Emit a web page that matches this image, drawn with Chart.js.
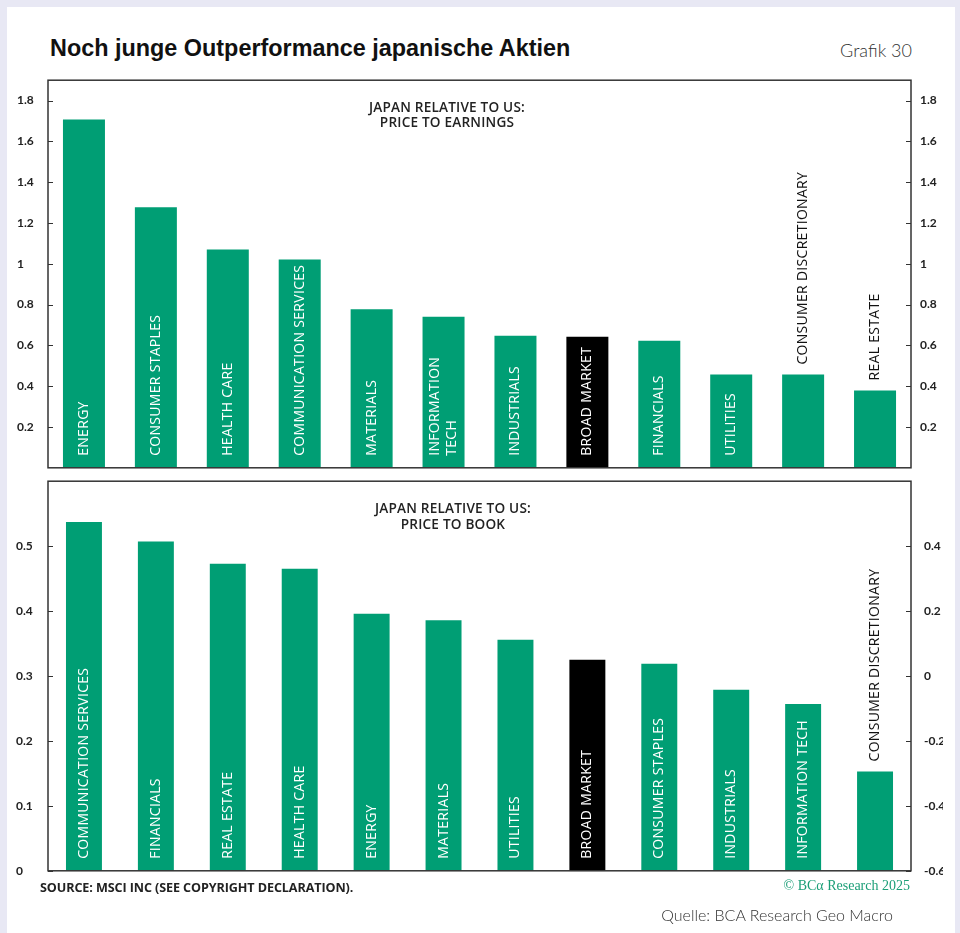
<!DOCTYPE html>
<html>
<head>
<meta charset="utf-8">
<script src="https://cdn.jsdelivr.net/npm/chart.js@4.4.1/dist/chart.umd.min.js"></script>
<style>
  body { margin: 0; width: 960px; height: 933px; background: #e8e8f4; position: relative; overflow: hidden; }
  .card { position: absolute; left: 7px; top: 7px; width: 948px; height: 940px; background: #fff; }
  .abs { position: absolute; white-space: nowrap; line-height: 1; }
  canvas { position: absolute; left: 0; }
  #title { left: 50px; top: 35px; font: bold 23.4px "Liberation Sans", Arial, sans-serif; color: #111; }
  #grafik { right: 48px; top: 39px; font: 300 18px Lato, sans-serif; color: #333; }
  .panelTitle { width: 260px; text-align: center; font: 600 13.6px "Open Sans", sans-serif; letter-spacing: 0.2px; color: #222; }
  #source { left: 40px; top: 879px; font: bold 12.6px "Open Sans", sans-serif; color: #222; letter-spacing: -0.1px; }
  #copy { right: 50px; top: 878px; font: 14px "Liberation Serif", serif; color: #1b9e77; }
  #quelle { right: 67px; top: 905px; font: 300 16px Lato, sans-serif; color: #333; }
</style>
</head>
<body>
<div class="card"></div>
<div id="title" class="abs">Noch junge Outperformance japanische Aktien</div>
<div id="grafik" class="abs">Grafik 30</div>
<canvas id="peChart" width="960" height="420" style="top:64px"></canvas>
<canvas id="pbChart" width="943" height="430" style="top:461px"></canvas>
<div class="abs panelTitle" style="left:317px; top:100px; line-height:14.6px">JAPAN RELATIVE TO US:<br>PRICE TO EARNINGS</div>
<div class="abs panelTitle" style="left:323px; top:500px; line-height:15.7px">JAPAN RELATIVE TO US:<br>PRICE TO BOOK</div>
<div id="source" class="abs">SOURCE: MSCI INC (SEE COPYRIGHT DECLARATION).</div>
<div id="copy" class="abs">© BCα Research 2025</div>
<div id="quelle" class="abs">Quelle: BCA Research Geo Macro</div>
<script>
// Japan relative to US, price to earnings (top panel)
const peCategories = ['ENERGY', 'CONSUMER STAPLES', 'HEALTH CARE', 'COMMUNICATION SERVICES', 'MATERIALS',
  ['INFORMATION', 'TECH'], 'INDUSTRIALS', 'BROAD MARKET', 'FINANCIALS', 'UTILITIES', 'CONSUMER DISCRETIONARY', 'REAL ESTATE'];
const peValues = [1.707, 1.277, 1.07, 1.021, 0.777, 0.74, 0.647, 0.642, 0.623, 0.457, 0.457, 0.379];

// Japan relative to US, price to book (bottom panel)
const pbCategories = ['COMMUNICATION SERVICES', 'FINANCIALS', 'REAL ESTATE', 'HEALTH CARE', 'ENERGY', 'MATERIALS',
  'UTILITIES', 'BROAD MARKET', 'CONSUMER STAPLES', 'INDUSTRIALS', 'INFORMATION TECH', 'CONSUMER DISCRETIONARY'];
const pbValues = [0.537, 0.507, 0.473, 0.465, 0.396, 0.386, 0.356, 0.325, 0.319, 0.279, 0.257, 0.153];

// tick values shown on each axis
const peLeftTicks = [0.2, 0.4, 0.6, 0.8, 1, 1.2, 1.4, 1.6, 1.8];
const pbLeftTicks = [0, 0.1, 0.2, 0.3, 0.4, 0.5];
const pbRightTicks = [-0.6, -0.4, -0.2, 0, 0.2, 0.4];

const GREEN = '#009e74';
const tickFont = { family: 'Lato', size: 12, weight: 'bold' };

function barColours(cats) {
  return cats.map(c => c === 'BROAD MARKET' ? '#000' : GREEN);
}

// white label inside the bar, or black above it if it does not fit
const barLabels = {
  id: 'barLabels',
  afterDatasetsDraw(chart) {
    const ctx = chart.ctx;
    const base = chart.scales.y.getPixelForValue(0);
    ctx.save();
    ctx.font = '14px "Open Sans"';
    ctx.letterSpacing = '0.3px';
    ctx.textBaseline = 'middle';
    ctx.textAlign = 'left';
    chart.getDatasetMeta(0).data.forEach((bar, i) => {
      let lines = chart.data.labels[i];
      if (!Array.isArray(lines)) lines = [lines];
      const w = Math.max(...lines.map(l => ctx.measureText(l).width));
      const inside = w + 10 <= base - bar.y;
      ctx.fillStyle = inside ? '#fff' : '#111';
      const start = inside ? base - 12 : bar.y - 10;
      lines.forEach((l, j) => {
        ctx.save();
        ctx.translate(bar.x + (j - (lines.length - 1) / 2) * 17, start);
        ctx.rotate(-Math.PI / 2);
        ctx.fillText(l, 0, 0);
        ctx.restore();
      });
    });
    ctx.restore();
  }
};

// box round the plot area with small inner tick marks
const frame = {
  id: 'frame',
  afterDraw(chart) {
    const { ctx, chartArea: a } = chart;
    ctx.save();
    ctx.strokeStyle = '#333';
    ctx.lineWidth = 1.5;
    ctx.strokeRect(a.left, a.top, a.right - a.left, a.bottom - a.top);
    ctx.lineWidth = 1;
    ['y', 'y2'].forEach(id => {
      const s = chart.scales[id];
      s.ticks.forEach(t => {
        const py = Math.round(s.getPixelForValue(t.value)) + 0.5;
        ctx.beginPath();
        if (s.position === 'left') { ctx.moveTo(a.left, py); ctx.lineTo(a.left + 5, py); }
        else { ctx.moveTo(a.right - 5, py); ctx.lineTo(a.right, py); }
        ctx.stroke();
      });
    });
    ctx.restore();
  }
};

function yAxis(pos, min, max, keep, width, pad) {
  return {
    position: pos, min: min, max: max,
    grid: { display: false, drawTicks: false },
    border: { display: false },
    afterBuildTicks: s => { s.ticks = keep.map(v => ({ value: v })); },
    afterFit: s => { s.width = width; },
    ticks: {
      padding: pad, color: '#222', font: tickFont,
      crossAlign: pos === 'left' ? 'far' : 'near',
      callback: v => String(+v.toFixed(2))
    }
  };
}

function makeChart(id, cats, vals, barPct, padding, scales) {
  return new Chart(document.getElementById(id), {
    type: 'bar',
    data: {
      labels: cats,
      datasets: [{ data: vals, backgroundColor: barColours(cats), barPercentage: barPct, categoryPercentage: 1, yAxisID: 'y' }]
    },
    options: {
      responsive: false,
      animation: false,
      layout: { padding: padding },
      plugins: { legend: { display: false }, tooltip: { enabled: false } },
      scales: Object.assign({ x: { display: false } }, scales)
    },
    plugins: [barLabels, frame]
  });
}

// right-axis tick padding also pads the plot top/bottom, canvases are placed to allow for it
makeChart('peChart', peCategories, peValues, 0.584,
  { left: 17, right: 0, top: 0, bottom: 0 },
  { y: yAxis('left', 0, 1.9, peLeftTicks, 31, 0),
    y2: yAxis('right', 0, 1.9, peLeftTicks, 49, 9) });

makeChart('pbChart', pbCategories, pbValues, 0.5,
  { left: 16, right: 0, top: 0, bottom: 0 },
  { y: yAxis('left', 0, 0.6, pbLeftTicks, 32, 0),
    y2: yAxis('right', -0.6, 0.6, pbRightTicks, 32, 13) });
</script>
</body>
</html>
